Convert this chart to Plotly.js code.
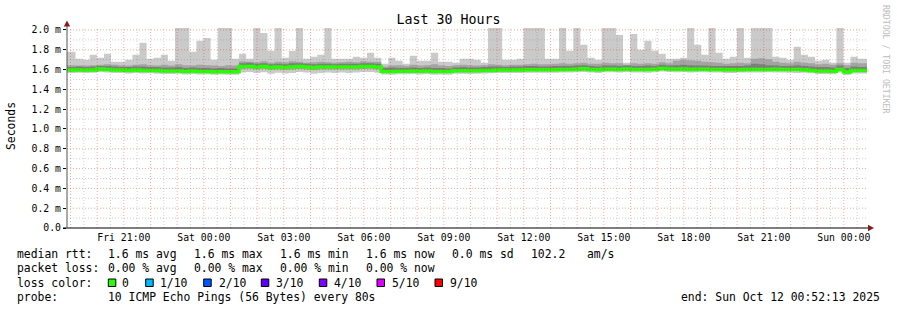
<!DOCTYPE html>
<html><head><meta charset="utf-8">
<script src="https://cdn.plot.ly/plotly-3.0.1.min.js"></script>
<style>html,body{margin:0;padding:0;background:#fff}#chart{width:897px;height:310px}</style>
</head><body><div id="chart"></div>
<script>
// ---- time axis (hours since Fri 2025-10-10 18:00) ----
const stepStartHours = 0.656;      // start of first 16-minute RRD step shown
const stepHours = 16 / 60;
const rangeStart = 0.87028;        // Fri 18:52:13
const rangeEnd = 30.87028;         // Sun 00:52:13
const hourTickVals = [3, 6, 9, 12, 15, 18, 21, 24, 27, 30];
const hourTickText = ["Fri 21:00", "Sat 00:00", "Sat 03:00", "Sat 06:00", "Sat 09:00",
                      "Sat 12:00", "Sat 15:00", "Sat 18:00", "Sat 21:00", "Sun 00:00"];
const yTickVals = [0, 0.2, 0.4, 0.6, 0.8, 1.0, 1.2, 1.4, 1.6, 1.8, 2.0];
const yTickText = ["0.0", "0.2 m", "0.4 m", "0.6 m", "0.8 m", "1.0 m", "1.2 m", "1.4 m", "1.6 m", "1.8 m", "2.0 m"];

// ---- RTT values per step (ms) ----
const maxRtt = [1.78,1.78,1.71,1.70,1.75,1.72,1.76,1.68,1.68,1.70,
 1.75,1.87,1.71,1.72,1.75,1.69,2.02,2.02,1.78,1.89,
 1.92,1.70,2.02,2.02,1.71,1.76,1.71,2.02,1.97,1.79,
 2.02,1.72,1.79,2.02,1.71,1.73,1.75,2.02,1.71,1.71,
 1.71,1.73,1.72,1.77,1.72,1.66,1.72,1.69,1.66,1.74,
 1.69,1.69,1.77,1.68,1.68,1.67,1.71,1.71,1.70,1.67,
 2.02,2.02,1.70,1.70,1.71,2.02,2.02,2.02,1.71,1.71,
 2.02,1.79,2.02,1.85,1.72,1.70,2.02,2.02,1.95,1.67,
 1.96,1.80,1.89,1.79,1.76,1.71,1.71,1.72,2.02,1.85,
 1.75,2.02,1.77,1.71,1.73,2.02,1.72,2.02,2.02,2.02,
 1.73,1.72,1.70,1.83,1.75,1.73,1.69,1.70,1.67,2.02,
 1.67,1.73,1.71,1.71];
const ping9 = [1.645,1.645,1.64,1.64,1.645,1.65,1.655,1.65,1.645,1.64,
 1.65,1.655,1.645,1.64,1.65,1.64,1.655,1.645,1.64,1.65,
 1.645,1.64,1.635,1.645,1.64,1.685,1.68,1.675,1.685,1.67,
 1.68,1.675,1.685,1.68,1.67,1.675,1.68,1.675,1.67,1.675,
 1.68,1.675,1.685,1.68,1.68,1.63,1.64,1.645,1.635,1.65,
 1.64,1.645,1.655,1.64,1.635,1.645,1.65,1.645,1.64,1.645,
 1.655,1.65,1.645,1.65,1.65,1.655,1.66,1.655,1.655,1.66,
 1.665,1.66,1.665,1.67,1.66,1.66,1.67,1.665,1.665,1.65,
 1.665,1.66,1.665,1.66,1.675,1.665,1.69,1.70,1.695,1.69,
 1.68,1.675,1.67,1.66,1.665,1.67,1.665,1.71,1.715,1.705,
 1.68,1.67,1.665,1.68,1.67,1.665,1.655,1.66,1.65,1.665,
 1.645,1.67,1.665,1.665];
const ping8 = [1.625,1.625,1.63,1.625,1.63,1.635,1.635,1.63,1.625,1.625,
 1.63,1.63,1.625,1.625,1.62,1.62,1.625,1.615,1.62,1.615,
 1.615,1.61,1.615,1.61,1.61,1.665,1.67,1.66,1.665,1.655,
 1.66,1.655,1.665,1.665,1.66,1.655,1.66,1.66,1.655,1.66,
 1.66,1.66,1.665,1.665,1.66,1.615,1.62,1.615,1.615,1.62,
 1.615,1.62,1.615,1.615,1.61,1.62,1.625,1.62,1.62,1.625,
 1.63,1.63,1.625,1.63,1.63,1.635,1.635,1.63,1.63,1.635,
 1.635,1.635,1.64,1.645,1.635,1.63,1.64,1.64,1.635,1.64,
 1.635,1.635,1.64,1.635,1.65,1.64,1.645,1.65,1.645,1.64,
 1.64,1.635,1.635,1.635,1.635,1.635,1.64,1.66,1.655,1.645,
 1.64,1.635,1.635,1.645,1.635,1.63,1.625,1.625,1.62,1.64,
 1.615,1.63,1.625,1.625];
const medianRtt = [1.595,1.595,1.595,1.595,1.595,1.605,1.600,1.595,1.595,1.590,
 1.595,1.590,1.590,1.590,1.585,1.585,1.585,1.580,1.585,1.580,
 1.580,1.578,1.578,1.578,1.578,1.630,1.630,1.625,1.630,1.620,
 1.625,1.620,1.625,1.630,1.625,1.620,1.625,1.625,1.625,1.625,
 1.625,1.625,1.630,1.630,1.625,1.580,1.580,1.583,1.583,1.585,
 1.583,1.585,1.580,1.580,1.580,1.588,1.588,1.588,1.588,1.590,
 1.592,1.595,1.595,1.595,1.595,1.598,1.598,1.598,1.598,1.598,
 1.600,1.600,1.603,1.608,1.600,1.598,1.603,1.603,1.600,1.605,
 1.600,1.600,1.600,1.603,1.610,1.605,1.603,1.605,1.600,1.603,
 1.603,1.600,1.600,1.598,1.598,1.598,1.600,1.600,1.600,1.600,
 1.603,1.600,1.600,1.600,1.598,1.592,1.585,1.585,1.582,1.600,
 1.575,1.590,1.590,1.590];
const ping2 = [1.58,1.58,1.58,1.578,1.58,1.588,1.585,1.58,1.578,1.575,
 1.578,1.575,1.575,1.572,1.57,1.57,1.57,1.565,1.57,1.565,
 1.565,1.562,1.565,1.562,1.562,1.605,1.608,1.60,1.605,1.598,
 1.60,1.598,1.60,1.605,1.60,1.595,1.60,1.60,1.60,1.60,
 1.60,1.60,1.605,1.608,1.60,1.565,1.565,1.568,1.568,1.57,
 1.568,1.57,1.565,1.565,1.565,1.572,1.572,1.572,1.572,1.575,
 1.577,1.58,1.58,1.58,1.58,1.583,1.583,1.583,1.583,1.583,
 1.585,1.585,1.588,1.592,1.585,1.583,1.588,1.588,1.585,1.59,
 1.585,1.585,1.585,1.588,1.595,1.59,1.588,1.59,1.585,1.588,
 1.588,1.585,1.585,1.583,1.583,1.583,1.585,1.585,1.585,1.585,
 1.588,1.585,1.585,1.585,1.583,1.577,1.57,1.57,1.567,1.585,
 1.56,1.575,1.575,1.575];
const minRtt = [1.565,1.565,1.568,1.565,1.568,1.575,1.57,1.565,1.565,1.56,
 1.565,1.56,1.562,1.558,1.555,1.555,1.558,1.55,1.555,1.55,
 1.552,1.548,1.55,1.548,1.548,1.57,1.575,1.565,1.572,1.558,
 1.568,1.56,1.565,1.575,1.57,1.558,1.565,1.57,1.565,1.57,
 1.565,1.57,1.575,1.575,1.568,1.55,1.548,1.552,1.552,1.555,
 1.55,1.555,1.548,1.55,1.548,1.558,1.558,1.556,1.558,1.56,
 1.562,1.565,1.565,1.565,1.565,1.568,1.568,1.568,1.568,1.568,
 1.57,1.57,1.572,1.575,1.57,1.566,1.572,1.572,1.57,1.575,
 1.57,1.57,1.568,1.572,1.58,1.575,1.572,1.575,1.57,1.572,
 1.572,1.57,1.57,1.566,1.566,1.57,1.57,1.57,1.57,1.572,
 1.57,1.57,1.568,1.565,1.568,1.562,1.555,1.555,1.552,1.57,
 1.545,1.56,1.56,1.56];

// ---- legend texts ----
const lossLabels = ["0", "1/10", "2/10", "3/10", "4/10", "5/10", "9/10"];
const lossColors = ["#26ff00", "#00b8ff", "#0059ff", "#5e00ff", "#7e00ff", "#dd00ff", "#ff0000"];

// ---- build ----
const FONT = "DejaVu Sans Mono, monospace";
const L = 67, T = 28, PW = 800, PH = 200;
const px = v => (v - L) / PW;
const py = v => (T + PH - v) / PH;

const n = medianRtt.length;
const xs = [];
for (let k = 0; k <= n; k++) xs.push(stepStartHours + k * stepHours);
const ext = a => a.concat([a[a.length - 1]]);

function band(lo, hi, color) {
  return [
    {x: xs, y: ext(lo), type: 'scatter', mode: 'lines', line: {width: 0, shape: 'hv'}, hoverinfo: 'skip', showlegend: false},
    {x: xs, y: ext(hi), type: 'scatter', mode: 'lines', line: {width: 0, shape: 'hv'}, fill: 'tonexty', fillcolor: color, hoverinfo: 'skip', showlegend: false}
  ];
}
const traces = [].concat(
  band(minRtt, maxRtt, '#cacaca'),
  band(ping2, ping9, '#a4a4a4'),
  band(medianRtt, ping8, '#7e7e7e'),
  [{x: xs, y: ext(medianRtt), type: 'scatter', mode: 'lines', line: {width: 3.5, shape: 'hv', color: '#26ff00'}, showlegend: false}]
);

const RED = 'rgba(235,40,40,0.4)', GRAY = 'rgba(120,120,120,0.35)';
const shapes = [];
// horizontal grid (above data, like rrdtool)
for (let i = 1; i <= 20; i++) {
  const v = i / 10;
  const major = i % 2 === 0;
  shapes.push({type: 'line', layer: 'above', xref: 'paper', yref: 'y', x0: 0, x1: 1, y0: v, y1: v,
    line: {color: major ? RED : GRAY, width: 1, dash: '1px,2px'}});
}
// vertical grid every half hour, red on the hour
for (let h = 1; h <= 30.5; h += 0.5) {
  const major = Number.isInteger(h);
  shapes.push({type: 'line', layer: 'above', xref: 'x', yref: 'paper', x0: h, x1: h, y0: 0, y1: 1,
    line: {color: major ? RED : GRAY, width: 1, dash: '1px,2px'}});
}
// axes lines and arrows
shapes.push({type: 'line', layer: 'above', xref: 'paper', yref: 'paper', x0: px(63), x1: px(869), y0: py(228), y1: py(228), line: {color: '#000', width: 1}});
shapes.push({type: 'line', layer: 'above', xref: 'paper', yref: 'paper', x0: px(67), x1: px(67), y0: py(228), y1: py(24), line: {color: '#555', width: 1}});
shapes.push({type: 'path', layer: 'above', xref: 'paper', yref: 'paper',
  path: `M ${px(67)} ${py(20.5)} L ${px(63.8)} ${py(26.5)} L ${px(70.2)} ${py(26.5)} Z`, fillcolor: '#8b1c1c', line: {width: 0}});
shapes.push({type: 'path', layer: 'above', xref: 'paper', yref: 'paper',
  path: `M ${px(874)} ${py(228)} L ${px(868)} ${py(224.8)} L ${px(868)} ${py(231.2)} Z`, fillcolor: '#8b1c1c', line: {width: 0}});

const anns = [];
function txt(t, x, y, opt) {
  anns.push(Object.assign({text: t, x: px(x), y: py(y), xref: 'paper', yref: 'paper', showarrow: false,
    xanchor: 'left', yanchor: 'middle', borderpad: 0, font: {family: FONT, size: 11.4, color: '#000'}}, opt || {}));
}
// y title
txt('Seconds', 11, 126, {xanchor: 'center', textangle: -90});
// watermark
txt('RRDTOOL / TOBI OETIKER', 886, 59, {xanchor: 'center', textangle: 90, font: {family: FONT, size: 8.2, color: '#bdbdbd'}});
// legend lines
txt('median rtt:', 15.5, 254);
txt('1.6 ms avg', 106.8, 254); txt('1.6 ms max', 192.8, 254); txt('1.6 ms min', 278.8, 254);
txt('1.6 ms now', 364.9, 254); txt('0.0 ms sd', 451, 254); txt('102.2', 530.2, 254); txt('am/s', 586.2, 254);
txt('packet loss:', 15.5, 268);
txt('0.00 % avg', 106.8, 268); txt('0.00 % max', 192.8, 268); txt('0.00 % min', 278.8, 268); txt('0.00 % now', 364.9, 268);
txt('loss color:', 15.5, 282.5);
const boxX = [108.3, 145.7, 203.7, 261.3, 319.3, 377, 435];
const labX = [121, 159, 217.5, 275.2, 333.2, 391, 449];
lossLabels.forEach((lab, i) => {
  shapes.push({type: 'rect', xref: 'paper', yref: 'paper', x0: px(boxX[i]), x1: px(boxX[i] + 7.5),
    y0: py(279), y1: py(286.5), fillcolor: lossColors[i], line: {color: '#000', width: 1}});
  txt(lab, labX[i], 282.5);
});
txt('probe:', 15.5, 296.5);
txt('10 ICMP Echo Pings (56 Bytes) every 80s', 106.8, 296.5);
txt('end: Sun Oct 12 00:52:13 2025', 880.5, 296.5, {xanchor: 'right'});

const layout = {
  width: 897, height: 310,
  margin: {l: L, r: 30, t: T, b: 82, pad: 0},
  paper_bgcolor: '#ffffff', plot_bgcolor: '#ffffff',
  title: {text: 'Last 30 Hours', font: {family: FONT, size: 13.3, color: '#000'},
    x: 0.5, xref: 'container', xanchor: 'center', y: 1 - 19.5 / 310, yref: 'container', yanchor: 'middle'},
  showlegend: false,
  xaxis: {range: [rangeStart, rangeEnd], tickmode: 'array', tickvals: hourTickVals, ticktext: hourTickText,
    showgrid: false, zeroline: false, showline: false, ticks: '', ticklabelstandoff: 2,
    tickfont: {family: FONT, size: 9.8, color: '#000'}, fixedrange: true},
  yaxis: {range: [0, 2.02], tickmode: 'array', tickvals: yTickVals, ticktext: yTickText,
    showgrid: false, zeroline: false, showline: false, ticks: 'outside', ticklen: 3, tickcolor: '#000',
    tickfont: {family: FONT, size: 9.8, color: '#000'}, fixedrange: true},
  shapes: shapes,
  annotations: anns
};
Plotly.newPlot('chart', traces, layout, {staticPlot: true, displayModeBar: false});
</script>
</body></html>
